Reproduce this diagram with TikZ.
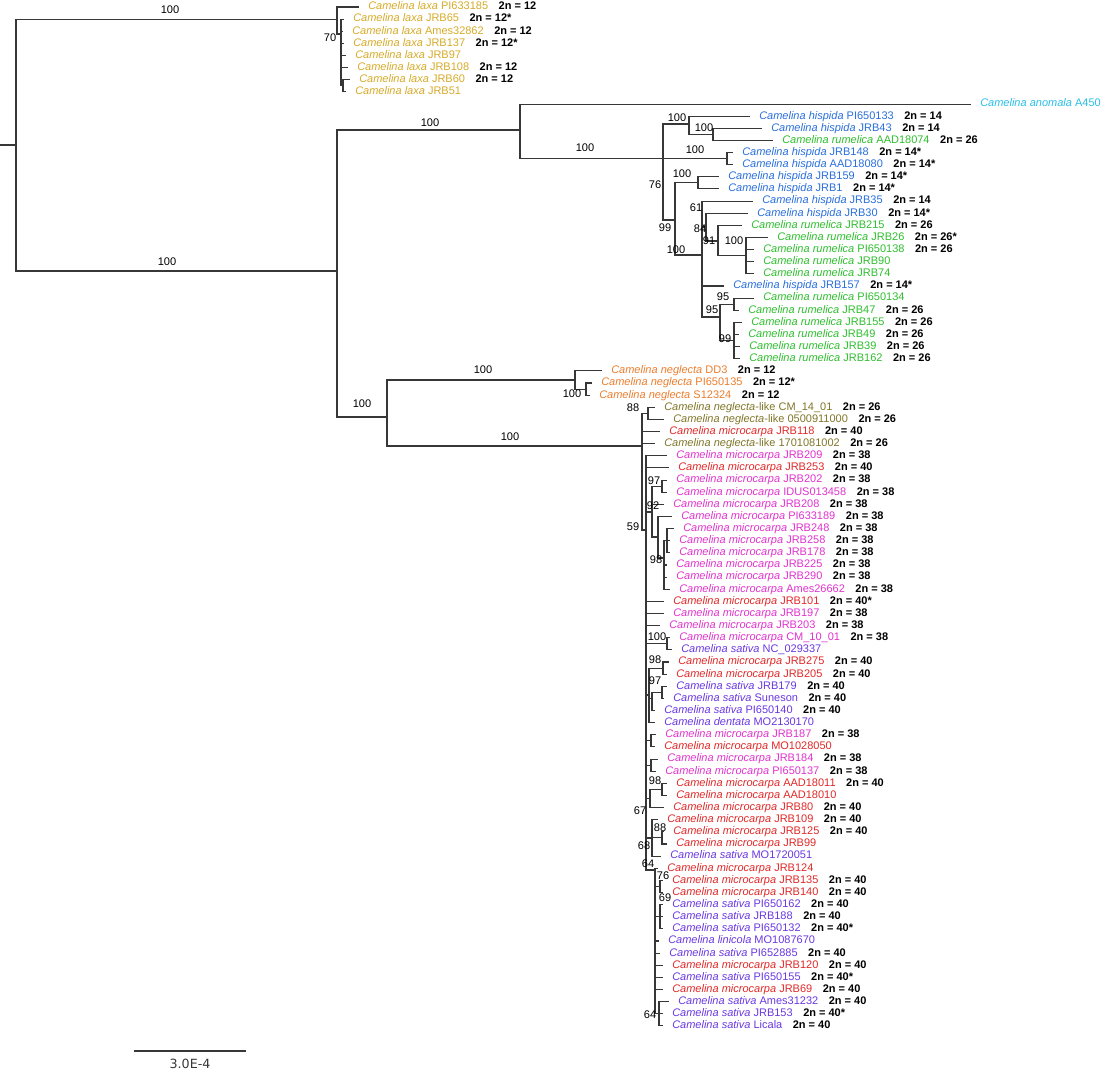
\documentclass[tikz,border=0pt]{standalone}
\usepackage{fontspec}
\setmainfont{Liberation Sans}
\newfontfamily\scalebarfont{DejaVu Sans}
\usetikzlibrary{calc}
\definecolor{linecol}{RGB}{55,55,55}
\definecolor{laxa}{RGB}{214,170,40}
\definecolor{anom}{RGB}{40,190,230}
\definecolor{hisp}{RGB}{40,110,220}
\definecolor{rume}{RGB}{45,190,45}
\definecolor{negl}{RGB}{235,125,45}
\definecolor{nlike}{RGB}{128,118,40}
\definecolor{mred}{RGB}{225,40,40}
\definecolor{mpink}{RGB}{225,50,205}
\definecolor{sat}{RGB}{105,55,225}
\tikzset{
  br/.style={draw=linecol,line width=0.8pt,line cap=rect},
  leaf/.style={anchor=west,inner sep=0pt,font=\fontsize{8.25}{9}\selectfont,text height=6pt,text depth=1.7pt},
  chrom/.style={anchor=west,inner sep=0pt,font=\fontsize{8.25}{9}\selectfont\bfseries,text height=6pt,text depth=1.7pt},
  bs/.style={inner sep=0pt,font=\fontsize{8.3}{9}\selectfont},
}
\newcommand\mkleaf[6]{%
  \node[leaf,text=#3] (L#1) at (#2,{7+12.13*#1}) {\textit{Camelina #4} #5};
  \if\relax\detokenize{#6}\relax\else\node[chrom] at ([xshift=7.5pt]L#1.east) {2n = #6};\fi}
\newcommand\mktip[2]{\draw[br] (#1 |- L#2.west) -- ([xshift=-7.5pt]L#2.west);}
\newcommand\mkvt[3]{\draw[br] (#1 |- #2) -- (#1 |- #3);}
\newcommand\mkin[2]{\draw[br] (#1 |- #2) -- (#2);}
\begin{document}
\begin{tikzpicture}[x=0.75pt,y=-0.75pt]
\path[use as bounding box] (0,0) rectangle (1104,1073);
% ---------- leaves ----------
\mkleaf{0}{368}{laxa}{laxa}{PI633185}{12}
\mkleaf{1}{353}{laxa}{laxa}{JRB65}{12*}
\mkleaf{2}{352}{laxa}{laxa}{Ames32862}{12}
\mkleaf{3}{353}{laxa}{laxa}{JRB137}{12*}
\mkleaf{4}{355}{laxa}{laxa}{JRB97}{}
\mkleaf{5}{357}{laxa}{laxa}{JRB108}{12}
\mkleaf{6}{359}{laxa}{laxa}{JRB60}{12}
\mkleaf{7}{355}{laxa}{laxa}{JRB51}{}
\mkleaf{8}{980}{anom}{anomala}{A450}{}
\mkleaf{9}{759}{hisp}{hispida}{PI650133}{14}
\mkleaf{10}{771}{hisp}{hispida}{JRB43}{14}
\mkleaf{11}{782}{rume}{rumelica}{AAD18074}{26}
\mkleaf{12}{742}{hisp}{hispida}{JRB148}{14*}
\mkleaf{13}{742}{hisp}{hispida}{AAD18080}{14*}
\mkleaf{14}{728}{hisp}{hispida}{JRB159}{14*}
\mkleaf{15}{728}{hisp}{hispida}{JRB1}{14*}
\mkleaf{16}{762}{hisp}{hispida}{JRB35}{14}
\mkleaf{17}{757}{hisp}{hispida}{JRB30}{14*}
\mkleaf{18}{751}{rume}{rumelica}{JRB215}{26}
\mkleaf{19}{777}{rume}{rumelica}{JRB26}{26*}
\mkleaf{20}{763}{rume}{rumelica}{PI650138}{26}
\mkleaf{21}{763}{rume}{rumelica}{JRB90}{}
\mkleaf{22}{763}{rume}{rumelica}{JRB74}{}
\mkleaf{23}{733}{hisp}{hispida}{JRB157}{14*}
\mkleaf{24}{763}{rume}{rumelica}{PI650134}{}
\mkleaf{25}{748}{rume}{rumelica}{JRB47}{26}
\mkleaf{26}{751}{rume}{rumelica}{JRB155}{26}
\mkleaf{27}{748}{rume}{rumelica}{JRB49}{26}
\mkleaf{28}{749}{rume}{rumelica}{JRB39}{26}
\mkleaf{29}{749}{rume}{rumelica}{JRB162}{26}
\mkleaf{30}{611}{negl}{neglecta}{DD3}{12}
\mkleaf{31}{601}{negl}{neglecta}{PI650135}{12*}
\mkleaf{32}{599}{negl}{neglecta}{S12324}{12}
\mkleaf{33}{664}{nlike}{neglecta\upshape-like}{CM\_14\_01}{26}
\mkleaf{34}{673}{nlike}{neglecta\upshape-like}{0500911000}{26}
\mkleaf{35}{669}{mred}{microcarpa}{JRB118}{40}
\mkleaf{36}{664}{nlike}{neglecta\upshape-like}{1701081002}{26}
\mkleaf{37}{676}{mpink}{microcarpa}{JRB209}{38}
\mkleaf{38}{678}{mred}{microcarpa}{JRB253}{40}
\mkleaf{39}{676}{mpink}{microcarpa}{JRB202}{38}
\mkleaf{40}{676}{mpink}{microcarpa}{IDUS013458}{38}
\mkleaf{41}{673}{mpink}{microcarpa}{JRB208}{38}
\mkleaf{42}{681}{mpink}{microcarpa}{PI633189}{38}
\mkleaf{43}{683}{mpink}{microcarpa}{JRB248}{38}
\mkleaf{44}{679}{mpink}{microcarpa}{JRB258}{38}
\mkleaf{45}{679}{mpink}{microcarpa}{JRB178}{38}
\mkleaf{46}{676}{mpink}{microcarpa}{JRB225}{38}
\mkleaf{47}{676}{mpink}{microcarpa}{JRB290}{38}
\mkleaf{48}{679}{mpink}{microcarpa}{Ames26662}{38}
\mkleaf{49}{673}{mred}{microcarpa}{JRB101}{40*}
\mkleaf{50}{673}{mpink}{microcarpa}{JRB197}{38}
\mkleaf{51}{669}{mpink}{microcarpa}{JRB203}{38}
\mkleaf{52}{679}{mpink}{microcarpa}{CM\_10\_01}{38}
\mkleaf{53}{681}{sat}{sativa}{NC\_029337}{}
\mkleaf{54}{678}{mred}{microcarpa}{JRB275}{40}
\mkleaf{55}{676}{mred}{microcarpa}{JRB205}{40}
\mkleaf{56}{676}{sat}{sativa}{JRB179}{40}
\mkleaf{57}{673}{sat}{sativa}{Suneson}{40}
\mkleaf{58}{664}{sat}{sativa}{PI650140}{40}
\mkleaf{59}{664}{sat}{dentata}{MO2130170}{}
\mkleaf{60}{665}{mpink}{microcarpa}{JRB187}{38}
\mkleaf{61}{664}{mred}{microcarpa}{MO1028050}{}
\mkleaf{62}{667}{mpink}{microcarpa}{JRB184}{38}
\mkleaf{63}{665}{mpink}{microcarpa}{PI650137}{38}
\mkleaf{64}{676}{mred}{microcarpa}{AAD18011}{40}
\mkleaf{65}{676}{mred}{microcarpa}{AAD18010}{}
\mkleaf{66}{673}{mred}{microcarpa}{JRB80}{40}
\mkleaf{67}{667}{mred}{microcarpa}{JRB109}{40}
\mkleaf{68}{673}{mred}{microcarpa}{JRB125}{40}
\mkleaf{69}{676}{mred}{microcarpa}{JRB99}{}
\mkleaf{70}{670}{sat}{sativa}{MO1720051}{}
\mkleaf{71}{667}{mred}{microcarpa}{JRB124}{}
\mkleaf{72}{672}{mred}{microcarpa}{JRB135}{40}
\mkleaf{73}{672}{mred}{microcarpa}{JRB140}{40}
\mkleaf{74}{672}{sat}{sativa}{PI650162}{40}
\mkleaf{75}{672}{sat}{sativa}{JRB188}{40}
\mkleaf{76}{672}{sat}{sativa}{PI650132}{40*}
\mkleaf{77}{668}{sat}{linicola}{MO1087670}{}
\mkleaf{78}{669}{sat}{sativa}{PI652885}{40}
\mkleaf{79}{672}{mred}{microcarpa}{JRB120}{40}
\mkleaf{80}{672}{sat}{sativa}{PI650155}{40*}
\mkleaf{81}{672}{mred}{microcarpa}{JRB69}{40}
\mkleaf{82}{678}{sat}{sativa}{Ames31232}{40}
\mkleaf{83}{672}{sat}{sativa}{JRB153}{40*}
\mkleaf{84}{672}{sat}{sativa}{Licala}{40}
% ---------- internal nodes ----------
\coordinate (rs) at (0,145);
\coordinate (root) at (16,145);
\coordinate (nlaxa) at (337,19.1);
\coordinate (n70) at (341,34);
\coordinate (n6051) at (343,85.8);
\coordinate (n2) at (337,271);
\coordinate (nhr) at (520,130);
\coordinate (h0) at (663,158.6);
\coordinate (h100a) at (689,124);
\coordinate (h100b) at (713,134.4);
\coordinate (h100c) at (727,158.6);
\coordinate (h76) at (675,220);
\coordinate (h100d) at (698,182.9);
\coordinate (hP) at (702,255);
\coordinate (h84) at (706,227);
\coordinate (h91) at (718,241);
\coordinate (h100r) at (746,255.7);
\coordinate (h95a) at (720,317);
\coordinate (h95b) at (734,304.2);
\coordinate (h99) at (734,340.6);
\coordinate (nnm) at (387,417);
\coordinate (nneg) at (575,380);
\coordinate (nneg2) at (586,389.1);
\coordinate (R) at (642,446);
\coordinate (n88) at (648,413.4);
\coordinate (n59) at (646,530);
\coordinate (n92) at (652,512);
\coordinate (n97) at (662,486.1);
\coordinate (n98) at (658,537);
\coordinate (nsub) at (664,558);
\coordinate (nsub2) at (667,540.7);
\coordinate (n100b) at (667,643.8);
\coordinate (nmid) at (649,695);
\coordinate (n98b) at (663,668.1);
\coordinate (n97o) at (652,698.5);
\coordinate (n97b) at (662,692.3);
\coordinate (ng1) at (651,740.9);
\coordinate (ng2) at (651,765.1);
\coordinate (n67a) at (650,798.5);
\coordinate (n98c) at (662,789.4);
\coordinate (n68) at (652,838);
\coordinate (n88b) at (662,837.9);
\coordinate (n64) at (655,870);
\coordinate (n76) at (660,886.4);
\coordinate (n69) at (660,916.8);
\coordinate (n64b) at (659,1013.8);
% ---------- branches ----------
\draw[br] (rs) -- (root);
\mkvt{root}{nlaxa}{n2}
\mkin{root}{nlaxa}
\mkin{root}{n2}
% laxa
\mkvt{nlaxa}{L0.west}{n70}
\mktip{nlaxa}{0}
\mkin{nlaxa}{n70}
\mkvt{n70}{L1.west}{n6051}
\mktip{n70}{1}\mktip{n70}{2}\mktip{n70}{3}\mktip{n70}{4}\mktip{n70}{5}
\mkin{n70}{n6051}
\mkvt{n6051}{L6.west}{L7.west}
\mktip{n6051}{6}\mktip{n6051}{7}
% second big clade
\mkvt{n2}{nhr}{nnm}
\mkin{n2}{nhr}
\mkin{n2}{nnm}
\mkvt{nhr}{L8.west}{h0}
\mktip{nhr}{8}
\mkin{nhr}{h0}
\mkvt{h0}{h100a}{h76}
\mkin{h0}{h100a}\mkin{h0}{h100c}\mkin{h0}{h76}
\mkvt{h100a}{L9.west}{h100b}
\mktip{h100a}{9}
\mkin{h100a}{h100b}
\mkvt{h100b}{L10.west}{L11.west}
\mktip{h100b}{10}\mktip{h100b}{11}
\mkvt{h100c}{L12.west}{L13.west}
\mktip{h100c}{12}\mktip{h100c}{13}
\mkvt{h76}{h100d}{hP}
\mkin{h76}{h100d}\mkin{h76}{hP}
\mkvt{h100d}{L14.west}{L15.west}
\mktip{h100d}{14}\mktip{h100d}{15}
\mkvt{hP}{L16.west}{h95a}
\mktip{hP}{16}\mkin{hP}{h84}\mktip{hP}{23}\mkin{hP}{h95a}
\mkvt{h84}{L17.west}{h91}
\mktip{h84}{17}\mkin{h84}{h91}
\mkvt{h91}{L18.west}{h100r}
\mktip{h91}{18}\mkin{h91}{h100r}
\mkvt{h100r}{L19.west}{L22.west}
\mktip{h100r}{19}\mktip{h100r}{20}\mktip{h100r}{21}\mktip{h100r}{22}
\mkvt{h95a}{h95b}{h99}
\mkin{h95a}{h95b}\mkin{h95a}{h99}
\mkvt{h95b}{L24.west}{L25.west}
\mktip{h95b}{24}\mktip{h95b}{25}
\mkvt{h99}{L26.west}{L29.west}
\mktip{h99}{26}\mktip{h99}{27}\mktip{h99}{28}\mktip{h99}{29}
% neglecta / microcarpa / sativa
\mkvt{nnm}{nneg}{R}
\mkin{nnm}{nneg}\mkin{nnm}{R}
\mkvt{nneg}{L30.west}{nneg2}
\mktip{nneg}{30}\mkin{nneg}{nneg2}
\mkvt{nneg2}{L31.west}{L32.west}
\mktip{nneg2}{31}\mktip{nneg2}{32}
\mkvt{R}{n88}{n59}
\mkin{R}{n88}\mktip{R}{35}\mktip{R}{36}\mkin{R}{n59}
\mkvt{n88}{L33.west}{L34.west}
\mktip{n88}{33}\mktip{n88}{34}
\mkvt{n59}{L37.west}{n64}
\mktip{n59}{37}\mktip{n59}{38}
\mkin{n59}{n92}
\mktip{n59}{49}\mktip{n59}{50}\mktip{n59}{51}
\mkin{n59}{n100b}\mkin{n59}{nmid}\mkin{n59}{ng1}\mkin{n59}{ng2}
\mkin{n59}{n67a}\mkin{n59}{n68}\mkin{n59}{n64}
\mkvt{n92}{n97}{n98}
\mkin{n92}{n97}\mktip{n92}{41}\mkin{n92}{n98}
\mkvt{n97}{L39.west}{L40.west}
\mktip{n97}{39}\mktip{n97}{40}
\mkvt{n98}{L42.west}{nsub}
\mktip{n98}{42}\mkin{n98}{nsub}
\mkvt{nsub}{nsub2}{L48.west}
\mkin{nsub}{nsub2}\mktip{nsub}{46}\mktip{nsub}{47}\mktip{nsub}{48}
\mkvt{nsub2}{L43.west}{L45.west}
\mktip{nsub2}{43}\mktip{nsub2}{44}\mktip{nsub2}{45}
\mkvt{n100b}{L52.west}{L53.west}
\mktip{n100b}{52}\mktip{n100b}{53}
\mkvt{nmid}{n98b}{L59.west}
\mkin{nmid}{n98b}\mkin{nmid}{n97o}\mktip{nmid}{59}
\mkvt{n98b}{L54.west}{L55.west}
\mktip{n98b}{54}\mktip{n98b}{55}
\mkvt{n97o}{n97b}{L58.west}
\mkin{n97o}{n97b}\mktip{n97o}{58}
\mkvt{n97b}{L56.west}{L57.west}
\mktip{n97b}{56}\mktip{n97b}{57}
\mkvt{ng1}{L60.west}{L61.west}
\mktip{ng1}{60}\mktip{ng1}{61}
\mkvt{ng2}{L62.west}{L63.west}
\mktip{ng2}{62}\mktip{ng2}{63}
\mkvt{n67a}{n98c}{L66.west}
\mkin{n67a}{n98c}\mktip{n67a}{66}
\mkvt{n98c}{L64.west}{L65.west}
\mktip{n98c}{64}\mktip{n98c}{65}
\mkvt{n68}{L67.west}{L70.west}
\mktip{n68}{67}\mkin{n68}{n88b}\mktip{n68}{70}
\mkvt{n88b}{L68.west}{L69.west}
\mktip{n88b}{68}\mktip{n88b}{69}
\mkvt{n64}{L71.west}{n64b}
\mktip{n64}{71}\mkin{n64}{n76}\mkin{n64}{n69}
\mktip{n64}{77}\mktip{n64}{78}\mktip{n64}{79}\mktip{n64}{80}\mktip{n64}{81}
\mkin{n64}{n64b}
\mkvt{n76}{L72.west}{L73.west}
\mktip{n76}{72}\mktip{n76}{73}
\mkvt{n69}{L74.west}{L76.west}
\mktip{n69}{74}\mktip{n69}{75}\mktip{n69}{76}
\mkvt{n64b}{L82.west}{L84.west}
\mktip{n64b}{82}\mktip{n64b}{83}\mktip{n64b}{84}
% ---------- bootstrap values ----------
\node[bs] (b1) at (170,10) {100};
\node[bs] (b2) at (167,262) {100};
\node[bs] (b3) at (330,38) {70};
\node[bs] (b4) at (430,123) {100};
\node[bs] (b5) at (585,148) {100};
\node[bs] (b6) at (677,118) {100};
\node[bs] (b7) at (704,128) {100};
\node[bs] (b8) at (695,150) {100};
\node[bs] (b9) at (655,185) {76};
\node[bs] (b10) at (682,174) {100};
\node[bs] (b11) at (665,228) {99};
\node[bs] (b12) at (696,208) {61};
\node[bs] (b13) at (700,229) {84};
\node[bs] (b14) at (709,241) {91};
\node[bs] (b15) at (734,241) {100};
\node[bs] (b16) at (676,250) {100};
\node[bs] (b17) at (723,297) {95};
\node[bs] (b18) at (712,310) {95};
\node[bs] (b19) at (725,339) {99};
\node[bs] (b20) at (483,370) {100};
\node[bs] (b21) at (362,404) {100};
\node[bs] (b22) at (572,394) {100};
\node[bs] (b23) at (510,437) {100};
\node[bs] (b24) at (633,408) {88};
\node[bs] (b25) at (654,481) {97};
\node[bs] (b26) at (653,506) {92};
\node[bs] (b27) at (633,527) {59};
\node[bs] (b28) at (656,560) {98};
\node[bs] (b29) at (657,637) {100};
\node[bs] (b30) at (655,660) {98};
\node[bs] (b31) at (655,681) {97};
\node[bs] (b32) at (655,781) {98};
\node[bs] (b33) at (640,811) {67};
\node[bs] (b34) at (660,828) {88};
\node[bs] (b35) at (644,846) {68};
\node[bs] (b36) at (648,864) {64};
\node[bs] (b37) at (663,876) {76};
\node[bs] (b38) at (665,898) {69};
\node[bs] (b39) at (650,1015) {64};
% ---------- scale bar ----------
\coordinate (sbL) at (135,1051);
\coordinate (sbR) at (245,1051);
\draw[br] (sbL) -- (sbR);
\node[inner sep=0pt,font=\scalebarfont\fontsize{9.5}{11}\selectfont,text=linecol] (sbt) at (190,1064) {3.0E-4};
\end{tikzpicture}
\end{document}
